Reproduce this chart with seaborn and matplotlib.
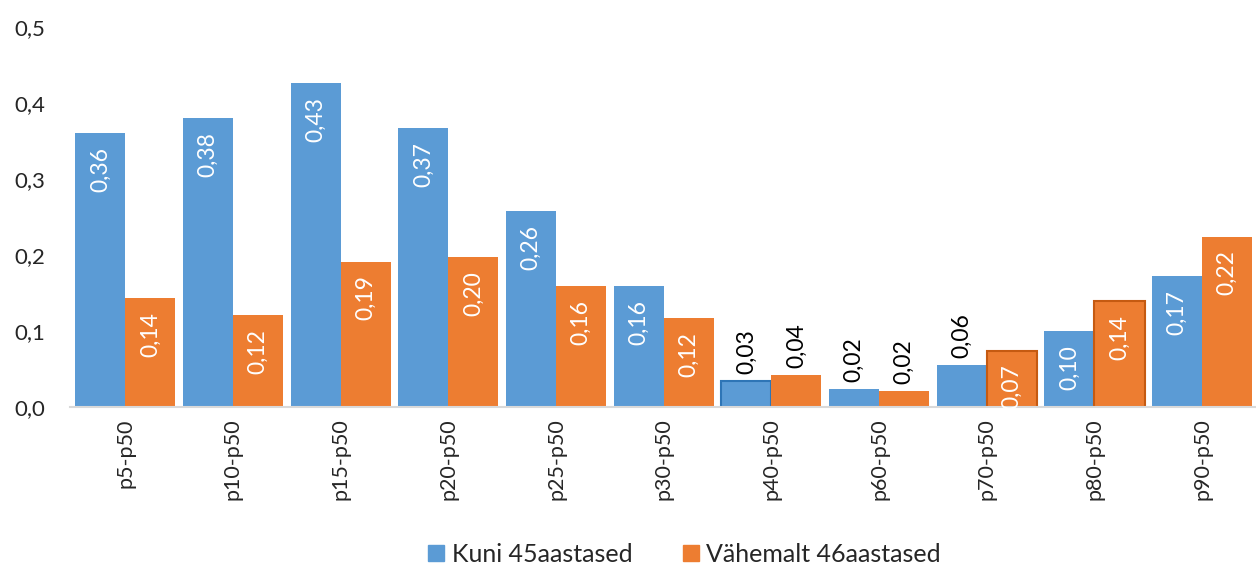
import numpy as np
import pandas as pd
import matplotlib
matplotlib.use('Agg')
import matplotlib.pyplot as plt
import seaborn as sb
from matplotlib.patches import Patch

# data
categories = ['p5-p50', 'p10-p50', 'p15-p50', 'p20-p50', 'p25-p50', 'p30-p50',
              'p40-p50', 'p60-p50', 'p70-p50', 'p80-p50', 'p90-p50']
young = [0.360, 0.380, 0.426, 0.367, 0.258, 0.159, 0.034, 0.024, 0.055, 0.100, 0.172]
old = [0.143, 0.121, 0.191, 0.197, 0.159, 0.117, 0.042, 0.021, 0.074, 0.139, 0.224]
series = ['Kuni 45aastased', 'Vähemalt 46aastased']

blue, orange = '#5B9BD5', '#ED7D31'

df = pd.DataFrame({
    'cat': categories * 2,
    'value': young + old,
    'group': [series[0]] * len(young) + [series[1]] * len(old),
})

sb.set_style('white')
plt.rcParams['font.family'] = ['Lato', 'DejaVu Sans']

fig = plt.figure(figsize=(12.56, 5.71), dpi=100)
ax = fig.add_axes([0.056, 0.287, 0.944, 0.666])

sb.barplot(data=df, x='cat', y='value', hue='group', palette=[blue, orange],
           width=0.93, gap=0, saturation=1, ax=ax, legend=False)

# a few bars carry a darker outline in the original
outlined = {(0, 6): '#2E75B6', (1, 8): '#C55A11', (1, 9): '#C55A11'}
for s, cont in enumerate(ax.containers):
    for i, bar in enumerate(cont):
        if (s, i) in outlined:
            bar.set_edgecolor(outlined[(s, i)])
            bar.set_linewidth(1.5)
        else:
            bar.set_linewidth(0)
        v = bar.get_height()
        xc = bar.get_x() + bar.get_width() / 2
        txt = f'{v:.2f}'.replace('.', ',')
        if v < 0.065:
            ax.text(xc, v + 0.009, txt, rotation=90, ha='center', va='bottom',
                    color='black', fontsize=16.5)
        else:
            ax.text(xc, v - 0.018, txt, rotation=90, ha='center', va='top',
                    color='white', fontsize=16.5)

ax.set_ylim(0, 0.5)
ax.set_xlim(-0.51, 10.5)
ax.set_yticks(np.arange(0, 0.51, 0.1))
ax.set_yticklabels([f'{t:.1f}'.replace('.', ',') for t in np.arange(0, 0.51, 0.1)], fontsize=16)
ax.tick_params(axis='y', length=0, pad=18)
ax.tick_params(axis='x', length=0, pad=8, labelsize=15.5, labelrotation=90)
ax.set_xlabel('')
ax.set_ylabel('')
for side in ['top', 'right', 'left']:
    ax.spines[side].set_visible(False)
ax.spines['bottom'].set_color('#D9D9D9')
ax.spines['bottom'].set_linewidth(1.5)

handles = [Patch(color=blue), Patch(color=orange)]
fig.legend(handles, series, loc='lower center', bbox_to_anchor=(0.545, -0.03), ncol=2,
           frameon=False, fontsize=18, handlelength=0.65, handleheight=0.65,
           handletextpad=0.3, columnspacing=2.0)

fig.savefig('out.png', dpi=100)
